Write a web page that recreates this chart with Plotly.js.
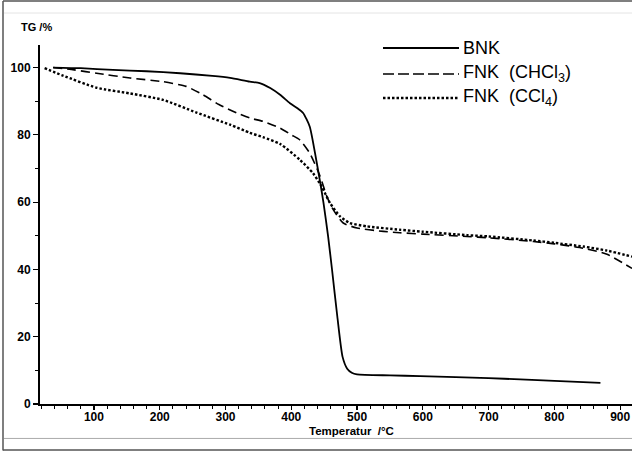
<!DOCTYPE html>
<html>
<head>
<meta charset="utf-8">
<script src="https://cdn.plot.ly/plotly-3.0.1.min.js"></script>
<style>
  html, body { margin: 0; padding: 0; background: #fff; }
  #chart { width: 632px; height: 452px; }
</style>
</head>
<body>
<div id="chart"></div>
<script>
// Thermogravimetric curves: mass (%) vs temperature (°C)
const tempBNK = [38, 80, 129, 180, 231, 280, 307, 337, 352, 368, 383, 398, 410, 418, 428, 436, 444, 449, 456, 462, 470, 478, 485, 492, 500, 550, 596, 650, 700, 748, 800, 870];
const massBNK = [100, 99.8, 99.3, 98.9, 98.3, 97.5, 96.9, 95.8, 95.4, 93.9, 91.9, 89.4, 87.8, 86.5, 82.5, 74.7, 65.8, 59.8, 49.8, 39.9, 26, 14, 10.5, 9.3, 8.8, 8.5, 8.3, 8.0, 7.7, 7.3, 6.9, 6.3];

const tempCHCl3 = [38, 70, 104, 155, 205, 240, 265, 290, 317, 337, 357, 383, 400, 413, 428, 444, 454, 464, 479, 500, 540, 565, 600, 667, 700, 768, 800, 844, 880, 918];
const massCHCl3 = [100, 99.3, 98.3, 96.9, 95.8, 94.4, 92.0, 89.0, 86.5, 85.0, 84.0, 82, 80, 78.5, 74.6, 67.6, 61.7, 57.7, 53.8, 52.3, 51.3, 50.9, 50.5, 49.8, 49.4, 48.3, 47.6, 46.3, 44.5, 40.3];

const tempCCl4 = [25, 53, 104, 155, 205, 256, 307, 337, 357, 383, 413, 433, 446, 459, 474, 489, 515, 565, 600, 667, 700, 768, 800, 844, 880, 918];
const massCCl4 = [99.8, 97.6, 94.0, 92.3, 90.4, 86.6, 83, 80.6, 79.3, 77.3, 72.6, 68.6, 64.7, 59.7, 55.8, 53.8, 52.8, 51.8, 51.2, 50.2, 49.8, 48.6, 47.9, 46.8, 45.6, 43.8];

const seriesNames = ['BNK', 'FNK  (CHCl<sub>3</sub>)', 'FNK  (CCl<sub>4</sub>)'];
const xTickVals = [100, 200, 300, 400, 500, 600, 700, 800, 900];
const yTickVals = [0, 20, 40, 60, 80, 100];

const W = 632, H = 452;
const M = { l: 40, r: 0, t: 45, b: 47.5 };
// pixel -> paper helpers for decorations
const px = x => (x - M.l) / (W - M.l - M.r);
const py = y => (H - M.b - y) / (H - M.t - M.b);

const FONT = 'Liberation Sans, Arial, sans-serif';
const styles = [
  { color: '#000', width: 1.8, dash: 'solid' },
  { color: '#000', width: 1.6, dash: '9px,5px' },
  { color: '#000', width: 2.4, dash: '2.5px,2px' }
];

const traces = [
  { x: tempBNK, y: massBNK },
  { x: tempCHCl3, y: massCHCl3 },
  { x: tempCCl4, y: massCCl4 }
].map((d, i) => ({
  type: 'scatter', mode: 'lines', x: d.x, y: d.y, name: seriesNames[i],
  line: Object.assign({ shape: 'spline', smoothing: 0.6 }, styles[i]),
  showlegend: false, hoverinfo: 'skip'
}));

// legend drawn by hand: long sample lines with labels
const legendY = [48, 74, 98];
const shapes = [];
const annotations = [];
legendY.forEach((yy, i) => {
  shapes.push({
    type: 'line', xref: 'paper', yref: 'paper',
    x0: px(383), x1: px(459), y0: py(yy), y1: py(yy),
    line: { color: '#000', width: styles[i].width, dash: i === 1 ? '11px,4px' : styles[i].dash }
  });
  annotations.push({
    xref: 'paper', yref: 'paper', x: px(461), y: py(yy), xanchor: 'left', yanchor: 'middle',
    text: seriesNames[i], showarrow: false, font: { family: FONT, size: 18, color: '#000' }
  });
});

// page frame
const frameColor = '#555';
shapes.push(
  { type: 'line', xref: 'paper', yref: 'paper', x0: px(3), x1: px(640), y0: py(1), y1: py(1), line: { color: frameColor, width: 1.5 } },
  { type: 'line', xref: 'paper', yref: 'paper', x0: px(3), x1: px(3), y0: py(1), y1: py(451), line: { color: frameColor, width: 1.5 } },
  { type: 'line', xref: 'paper', yref: 'paper', x0: px(3), x1: px(640), y0: py(450.5), y1: py(450.5), line: { color: frameColor, width: 1.5 } },
  { type: 'line', xref: 'paper', yref: 'paper', x0: px(4), x1: px(640), y0: py(13), y1: py(13), line: { color: '#e4e4e4', width: 1 } },
  { type: 'line', xref: 'paper', yref: 'paper', x0: px(4), x1: px(640), y0: py(439), y1: py(439), line: { color: '#aaa', width: 1 } }
);

annotations.push(
  { xref: 'paper', yref: 'paper', x: px(19), y: py(27), xanchor: 'left', yanchor: 'middle',
    text: 'TG /%', showarrow: false, font: { family: FONT, size: 11, color: '#000', weight: 'bold' } },
  { xref: 'paper', yref: 'paper', x: px(352), y: py(431.5), xanchor: 'center', yanchor: 'middle',
    text: 'Temperatur  /°C', showarrow: false, font: { family: FONT, size: 11.5, color: '#000', weight: 'bold' } }
);

const layout = {
  width: W, height: H, margin: M,
  paper_bgcolor: '#fff', plot_bgcolor: '#fff',
  showlegend: false,
  xaxis: {
    range: [18, 918], showgrid: false, zeroline: false,
    showline: true, linecolor: '#000', linewidth: 2,
    tickmode: 'array', tickvals: xTickVals, ticktext: xTickVals.map(String),
    ticks: 'outside', ticklen: 4, tickwidth: 1.2, tickcolor: '#000',
    ticklabelstandoff: -3,
    minor: { dtick: 20, tick0: 0, ticks: 'outside', ticklen: 3, tickwidth: 1, tickcolor: '#000', showgrid: false },
    tickfont: { family: FONT, size: 12, color: '#000', weight: 'bold' }
  },
  yaxis: {
    range: [0, 106.7], showgrid: false, zeroline: false,
    showline: true, linecolor: '#000', linewidth: 2,
    tickmode: 'array', tickvals: yTickVals, ticktext: yTickVals.map(String),
    ticks: 'outside', ticklen: 5, tickwidth: 1.2, tickcolor: '#000',
    minor: { dtick: 10, tick0: 0, ticks: 'outside', ticklen: 3, tickwidth: 1, tickcolor: '#000', showgrid: false },
    tickfont: { family: FONT, size: 12, color: '#000', weight: 'bold' }
  },
  shapes: shapes,
  annotations: annotations
};

Plotly.newPlot('chart', traces, layout, { displayModeBar: false, staticPlot: true });
</script>
</body>
</html>
